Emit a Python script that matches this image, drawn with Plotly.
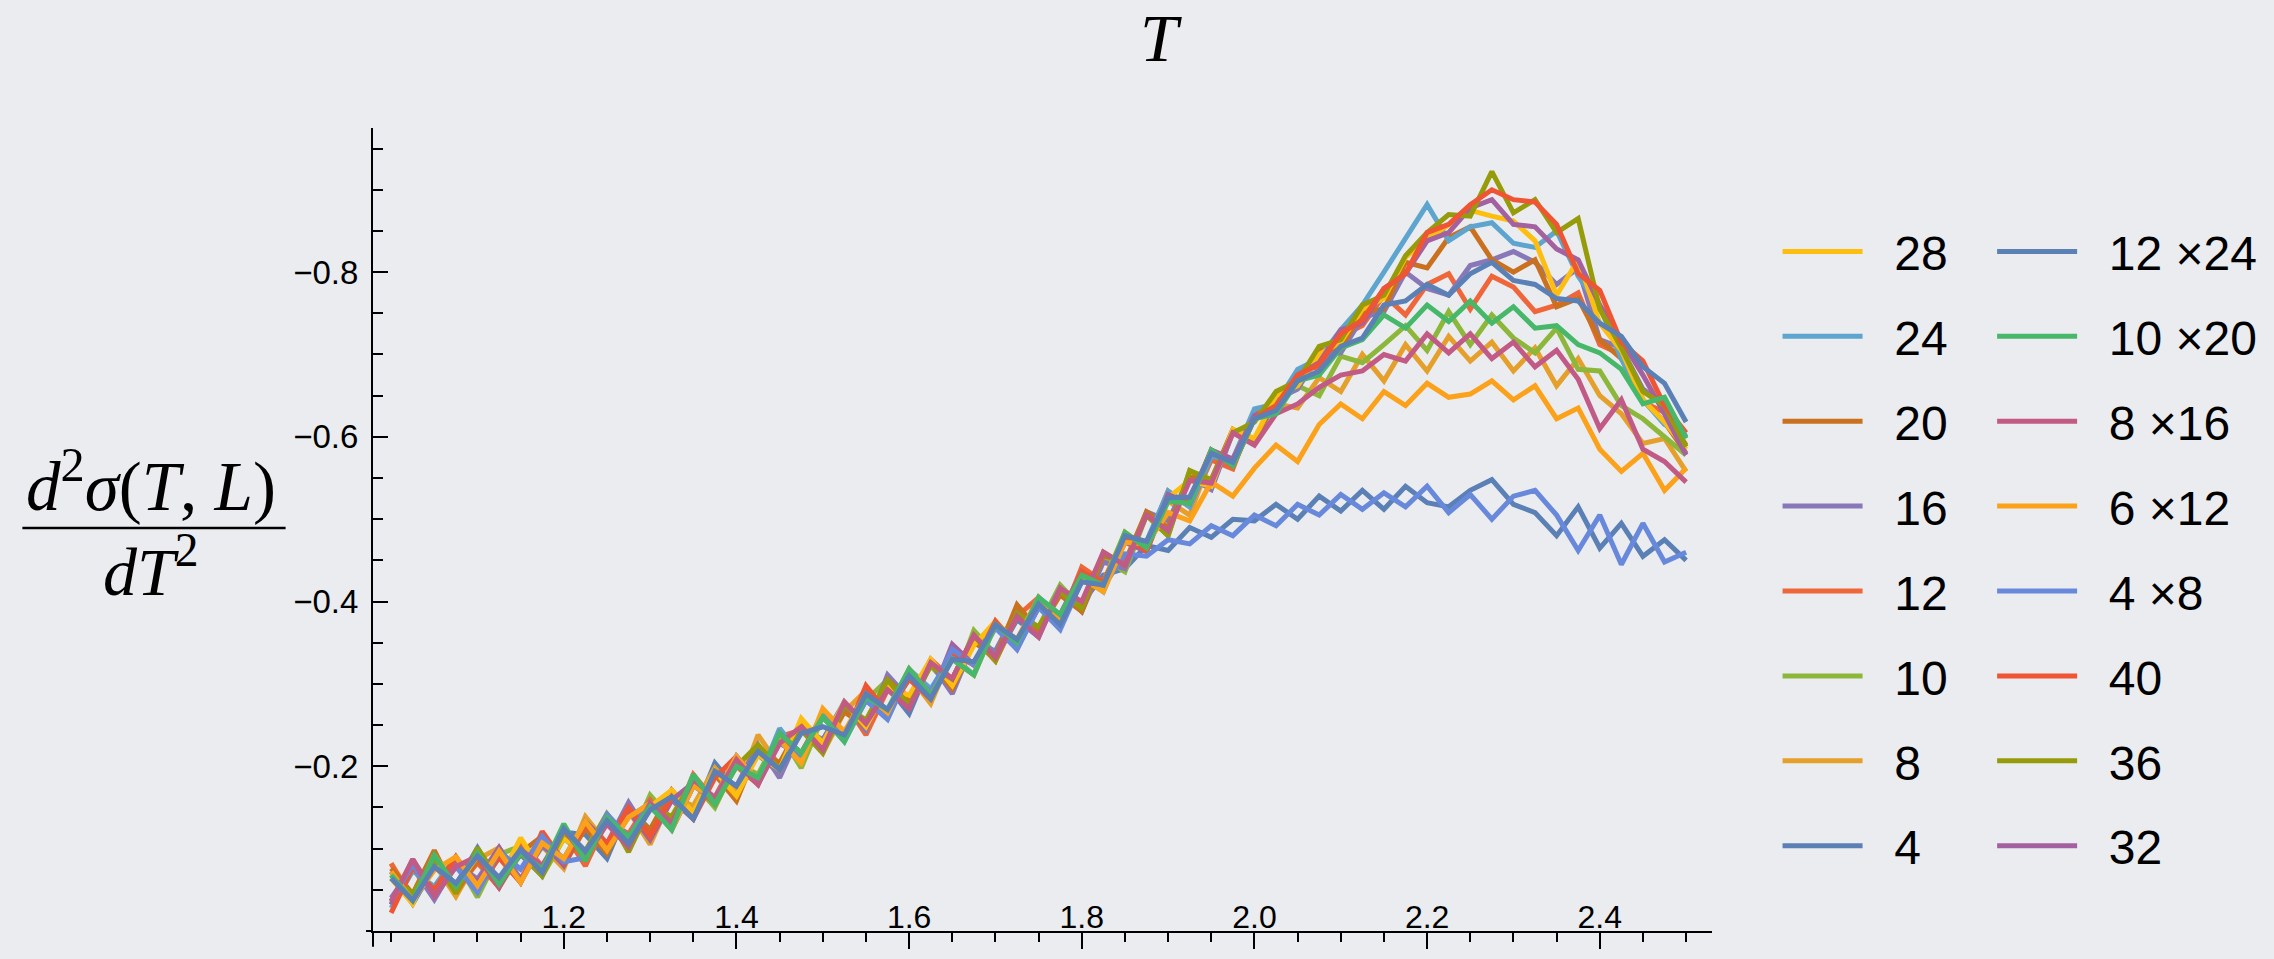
import plotly.graph_objects as go

# Temperature grid (x values)
T = [1.000, 1.025, 1.050, 1.075, 1.100, 1.125, 1.150, 1.175, 1.200, 1.225,
     1.250, 1.275, 1.300, 1.325, 1.350, 1.375, 1.400, 1.425, 1.450, 1.475,
     1.500, 1.525, 1.550, 1.575, 1.600, 1.625, 1.650, 1.675, 1.700, 1.725,
     1.750, 1.775, 1.800, 1.825, 1.850, 1.875, 1.900, 1.925, 1.950, 1.975,
     2.000, 2.025, 2.050, 2.075, 2.100, 2.125, 2.150, 2.175, 2.200, 2.225,
     2.250, 2.275, 2.300, 2.325, 2.350, 2.375, 2.400, 2.425, 2.450, 2.475, 2.500]

# Series values d^2 sigma / dT^2
s_4 = [-.072, -.033, -.078, -.056, -.101, -.057, -.093, -.067, -.120, -.117, -.088, -.150, -.123, -.167, -.140, -.204,
       -.172, -.214, -.192, -.248, -.232, -.278, -.248, -.297, -.264, -.326, -.306, -.359, -.332, -.378, -.357, -.416,
       -.398, -.432, -.440, -.468, -.462, -.490, -.478, -.500,
       -.498, -.518, -.500, -.528, -.510, -.535, -.512, -.540, -.520, -.515, -.535, -.548, -.518, -.508, -.480, -.515,
       -.465, -.495, -.455, -.475, -.450]
s_8 = [-.082, -.041, -.082, -.042, -.087, -.101, -.063, -.103, -.076, -.139, -.106, -.146, -.105, -.163, -.152, -.198,
       -.168, -.238, -.200, -.248, -.216, -.266, -.292, -.261, -.310, -.276, -.338, -.323, -.376, -.346, -.393, -.372,
       -.432, -.420, -.484, -.465, -.522, -.505, -.576, -.565, -.622,
       -.640, -.635, -.672, -.655, -.700, -.668, -.712, -.680, -.722, -.692, -.715, -.680, -.708, -.662, -.695, -.650,
       -.628, -.592, -.598, -.558]
s_10 = [-.032, -.081, -.050, -.086, -.041, -.093, -.103, -.067, -.112, -.093, -.142, -.106, -.165, -.135, -.180, -.150,
        -.204, -.190, -.240, -.198, -.260, -.238, -.280, -.305, -.274, -.322, -.294, -.365, -.336, -.386, -.369, -.420,
        -.392, -.452, -.436, -.505, -.480, -.559, -.544, -.605, -.598,
        -.642, -.662, -.650, -.698, -.690, -.712, -.735, -.705, -.752, -.712, -.748, -.720, -.702, -.732, -.682, -.680,
        -.638, -.622, -.600, -.578]
s_12 = [-.082, -.037, -.092, -.050, -.083, -.053, -.107, -.079, -.120, -.079, -.134, -.118, -.159, -.127, -.190, -.158,
        -.200, -.178, -.236, -.244, -.220, -.278, -.238, -.293, -.278, -.330, -.306, -.355, -.328, -.382, -.405, -.376,
        -.442, -.424, -.480, -.469, -.534, -.515, -.572, -.561, -.630,
        -.640, -.680, -.685, -.722, -.735, -.772, -.748, -.785, -.798, -.755, -.795, -.782, -.752, -.760, -.775, -.712,
        -.700, -.642, -.630, -.590]
s_16 = [-.040, -.077, -.038, -.082, -.063, -.101, -.063, -.103, -.084, -.133, -.106, -.156, -.115, -.159, -.136, -.194,
        -.176, -.226, -.186, -.244, -.232, -.274, -.244, -.311, -.282, -.326, -.288, -.351, -.340, -.390, -.365, -.416,
        -.388, -.448, -.440, -.509, -.498, -.551, -.536, -.605, -.594,
        -.645, -.658, -.700, -.702, -.745, -.752, -.800, -.780, -.772, -.808, -.815, -.825, -.812, -.785, -.805, -.718,
        -.708, -.658, -.638, -.600]
s_20 = [-.076, -.045, -.098, -.046, -.087, -.053, -.095, -.115, -.080, -.125, -.094, -.146, -.123, -.171, -.140, -.190,
        -.158, -.222, -.204, -.252, -.224, -.266, -.248, -.305, -.282, -.326, -.294, -.351, -.332, -.396, -.365, -.408,
        -.388, -.456, -.448, -.509, -.490, -.551, -.548, -.609, -.594,
        -.648, -.665, -.705, -.708, -.752, -.755, -.812, -.805, -.842, -.855, -.815, -.800, -.815, -.758, -.768, -.718,
        -.695, -.645, -.618, -.580]
s_24 = [-.028, -.073, -.054, -.090, -.051, -.089, -.059, -.111, -.088, -.133, -.102, -.138, -.155, -.123, -.176, -.162,
        -.212, -.182, -.246, -.212, -.260, -.230, -.280, -.261, -.318, -.294, -.334, -.311, -.372, -.350, -.405, -.384,
        -.432, -.412, -.476, -.473, -.534, -.515, -.576, -.573, -.634,
        -.640, -.682, -.695, -.730, -.760, -.800, -.840, -.882, -.838, -.855, -.860, -.835, -.830, -.850, -.795, -.758,
        -.695, -.645, -.615, -.602]
s_28 = [-.064, -.033, -.092, -.054, -.091, -.061, -.113, -.071, -.112, -.097, -.142, -.106, -.151, -.171, -.144, -.194,
        -.164, -.214, -.196, -.258, -.228, -.278, -.248, -.297, -.286, -.330, -.298, -.347, -.376, -.350, -.401, -.372,
        -.428, -.424, -.484, -.465, -.526, -.547, -.540, -.609, -.598,
        -.650, -.662, -.700, -.715, -.755, -.768, -.818, -.840, -.858, -.875, -.868, -.862, -.838, -.772, -.815, -.738,
        -.705, -.645, -.618, -.585]
s_32 = [-.032, -.087, -.046, -.086, -.059, -.101, -.059, -.107, -.080, -.133, -.106, -.146, -.111, -.159, -.180, -.154,
        -.204, -.178, -.240, -.216, -.260, -.234, -.292, -.265, -.306, -.282, -.348, -.323, -.372, -.342, -.397, -.384,
        -.436, -.416, -.472, -.461, -.530, -.519, -.584, -.573, -.626,
        -.635, -.675, -.690, -.730, -.738, -.780, -.798, -.838, -.848, -.878, -.888, -.858, -.855, -.828, -.815, -.760,
        -.718, -.675, -.628, -.578]
s_36 = [-.068, -.045, -.086, -.046, -.101, -.061, -.095, -.067, -.120, -.097, -.142, -.096, -.151, -.139, -.184, -.154,
        -.200, -.226, -.196, -.244, -.216, -.274, -.256, -.305, -.274, -.322, -.306, -.359, -.328, -.386, -.369, -.412,
        -.392, -.460, -.444, -.505, -.480, -.559, -.548, -.605, -.618,
        -.655, -.668, -.710, -.718, -.760, -.772, -.820, -.848, -.870, -.868, -.922, -.872, -.888, -.848, -.865, -.755,
        -.708, -.655, -.638, -.588]
s_40 = [-.022, -.077, -.050, -.090, -.051, -.089, -.059, -.121, -.084, -.129, -.106, -.150, -.115, -.163, -.136, -.186,
        -.212, -.182, -.232, -.216, -.264, -.234, -.298, -.265, -.306, -.282, -.338, -.323, -.376, -.346, -.393, -.380,
        -.436, -.424, -.480, -.461, -.526, -.523, -.584, -.565, -.622,
        -.638, -.675, -.688, -.725, -.742, -.780, -.798, -.848, -.858, -.882, -.900, -.888, -.885, -.858, -.798, -.778,
        -.715, -.692, -.638, -.605]
s_4x8 = [-.036, -.081, -.042, -.078, -.047, -.097, -.075, -.115, -.084, -.089, -.142, -.114, -.155, -.123, -.176, -.162,
         -.212, -.182, -.228, -.212, -.264, -.234, -.280, -.257, -.314, -.290, -.342, -.323, -.368, -.342, -.393, -.366,
         -.425, -.418, -.458, -.455, -.475, -.470, -.492, -.480,
         -.505, -.492, -.518, -.505, -.530, -.512, -.532, -.515, -.540, -.508, -.530, -.500, -.528, -.535, -.505, -.462,
         -.505, -.445, -.495, -.448, -.460]
s_6x12 = [-.072, -.037, -.074, -.090, -.055, -.097, -.059, -.107, -.088, -.133, -.098, -.138, -.155, -.123, -.176, -.162,
          -.212, -.182, -.232, -.204, -.270, -.242, -.288, -.265, -.318, -.286, -.330, -.311, -.372, -.354, -.405, -.376,
          -.428, -.412, -.472, -.470, -.508, -.498, -.545, -.528, -.562,
          -.590, -.570, -.615, -.640, -.622, -.655, -.638, -.665, -.648, -.652, -.668, -.645, -.662, -.622, -.635, -.585,
          -.558, -.580, -.535, -.562]
s_8x16 = [-.036, -.087, -.042, -.078, -.091, -.053, -.099, -.079, -.124, -.089, -.130, -.102, -.155, -.131, -.184, -.162,
          -.208, -.178, -.228, -.248, -.220, -.278, -.252, -.293, -.270, -.326, -.306, -.359, -.332, -.382, -.357, -.416,
          -.400, -.460, -.444, -.505, -.486, -.547, -.544, -.605, -.590,
          -.628, -.640, -.660, -.675, -.680, -.700, -.692, -.725, -.702, -.725, -.695, -.715, -.685, -.705, -.670, -.610,
          -.645, -.585, -.570, -.545]
s_10x20 = [-.068, -.037, -.092, -.054, -.095, -.057, -.095, -.075, -.130, -.085, -.138, -.114, -.151, -.123, -.190, -.154,
           -.200, -.186, -.240, -.216, -.260, -.230, -.284, -.269, -.318, -.286, -.330, -.311, -.372, -.350, -.405, -.384,
           -.432, -.420, -.484, -.465, -.522, -.519, -.584, -.565, -.622,
           -.628, -.668, -.675, -.708, -.718, -.748, -.732, -.760, -.740, -.765, -.738, -.758, -.732, -.735, -.712, -.702,
           -.682, -.640, -.648, -.598]
s_12x24 = [-.064, -.037, -.078, -.058, -.091, -.065, -.099, -.071, -.124, -.097, -.134, -.106, -.147, -.163, -.136, -.194,
           -.176, -.218, -.196, -.240, -.248, -.238, -.288, -.269, -.310, -.282, -.330, -.327, -.372, -.354, -.397, -.372,
           -.424, -.420, -.480, -.473, -.526, -.527, -.580, -.569, -.622,
           -.632, -.668, -.680, -.710, -.720, -.760, -.765, -.785, -.772, -.798, -.812, -.790, -.785, -.768, -.765, -.738,
           -.722, -.685, -.665, -.618]

# Legend labels, in plotting order
labels = ["4", "8", "10", "12", "16", "20", "24", "28",
          "32", "36", "40", "4 ×8", "6 ×12", "8 ×16", "10 ×20", "12 ×24"]
series = [s_4, s_8, s_10, s_12, s_16, s_20, s_24, s_28,
          s_32, s_36, s_40, s_4x8, s_6x12, s_8x16, s_10x20, s_12x24]
colors = ["#5A80B6", "#E5A02B", "#8DB73A", "#EE6639", "#8878B8", "#C9711F", "#5DA5CE", "#FDBE10",
          "#A4619F", "#969B0A", "#EF5533", "#6889DB", "#FCA11A", "#C25A86", "#47B86A", "#5A80B6"]

y_tickvals = [-0.2, -0.4, -0.6, -0.8]
y_ticktext = ["−0.2", "−0.4", "−0.6", "−0.8"]
x_tickvals = [1.2, 1.4, 1.6, 1.8, 2.0, 2.2, 2.4]
x_ticktext = ["1.2", "1.4", "1.6", "1.8", "2.0", "2.2", "2.4"]

W, H = 2274, 959
L_M, R_M, T_M, B_M = 373, 553, 128, 16
PW = W - L_M - R_M
PH = H - T_M - B_M

fig = go.Figure()
for i, (lab, ys, col) in enumerate(zip(labels, series, colors)):
    fig.add_trace(go.Scatter(
        x=T, y=ys, mode="lines", name="\u00a0\u00a0" + lab,
        line=dict(color=col, width=5),
        legendgroup="g%d" % i,
        legendrank=100 - i,
        legend="legend" if i < 8 else "legend2",
    ))

BG = "#EAECEF"
tick_font = dict(family="Liberation Sans, Arial, sans-serif", size=33, color="#000")
leg_common = dict(
    font=dict(family="Liberation Sans, Arial, sans-serif", size=48, color="#000"),
    traceorder="grouped", tracegroupgap=19.5,
    bgcolor="rgba(0,0,0,0)", borderwidth=0,
    xanchor="left", yanchor="top", itemwidth=80,
)
fig.update_layout(
    width=W, height=H,
    margin=dict(l=L_M, r=R_M, t=T_M, b=B_M),
    paper_bgcolor=BG, plot_bgcolor=BG,
    showlegend=True,
    legend=dict(x=(1787 - L_M) / PW, y=(943 - 215) / PH, **leg_common),
    legend2=dict(x=(2003 - L_M) / PW, y=(943 - 215) / PH, **leg_common),
    xaxis=dict(
        range=[0.979, 2.53], showgrid=False, zeroline=False,
        showline=True, linecolor="#000", linewidth=2,
        tickvals=x_tickvals, ticktext=x_ticktext,
        ticks="outside", ticklen=16, tickwidth=2, tickcolor="#000",
        ticklabelposition="inside", tickfont=dict(family="Liberation Sans, Arial, sans-serif", size=32, color="#000"),
        minor=dict(dtick=0.05, tick0=1.0, ticks="outside", ticklen=9, tickwidth=2, tickcolor="#000"),
    ),
    yaxis=dict(
        range=[0, -0.975], showgrid=False, zeroline=False,
        showline=True, linecolor="#000", linewidth=2,
        tickvals=y_tickvals, ticktext=y_ticktext,
        ticks="inside", ticklen=15, tickwidth=2, tickcolor="#000",
        tickfont=tick_font, ticklabelstandoff=6,
        minor=dict(dtick=0.05, tick0=0, ticks="inside", ticklen=10, tickwidth=2, tickcolor="#000"),
    ),
)

serif = "Liberation Serif, Times New Roman, serif"
fig.add_annotation(text="<i>T</i>", xref="paper", yref="paper",
                   x=(1166 - L_M) / PW, y=(943 - 37) / PH, showarrow=False,
                   font=dict(family=serif, size=68, color="#000"), xanchor="center", yanchor="middle")
fig.add_annotation(text="<i>d</i><sup>2</sup><i>σ</i>(<i>T</i>, <i>L</i>)", xref="paper", yref="paper",
                   x=(150 - L_M) / PW, y=(943 - 487) / PH, showarrow=False,
                   font=dict(family=serif, size=69, color="#000"), xanchor="center", yanchor="middle")
fig.add_annotation(text="<i>dT</i><sup>2</sup>", xref="paper", yref="paper",
                   x=(150 - L_M) / PW, y=(943 - 574) / PH, showarrow=False,
                   font=dict(family=serif, size=68, color="#000"), xanchor="center", yanchor="middle")
fig.add_shape(type="line", xref="paper", yref="paper",
              x0=(20 - L_M) / PW, x1=(285 - L_M) / PW, y0=(943 - 534) / PH, y1=(943 - 534) / PH,
              line=dict(color="#000", width=2.5))
# axis spine extensions (as in the reference)
fig.add_shape(type="line", xref="paper", yref="paper",
              x0=0, x1=0, y0=0, y1=-(959 - 943) / PH, line=dict(color="#000", width=2))
fig.add_shape(type="line", xref="paper", yref="paper",
              x0=-(373 - 366) / PW, x1=0, y0=0, y1=0, line=dict(color="#000", width=2))

fig.write_html("out.html")
